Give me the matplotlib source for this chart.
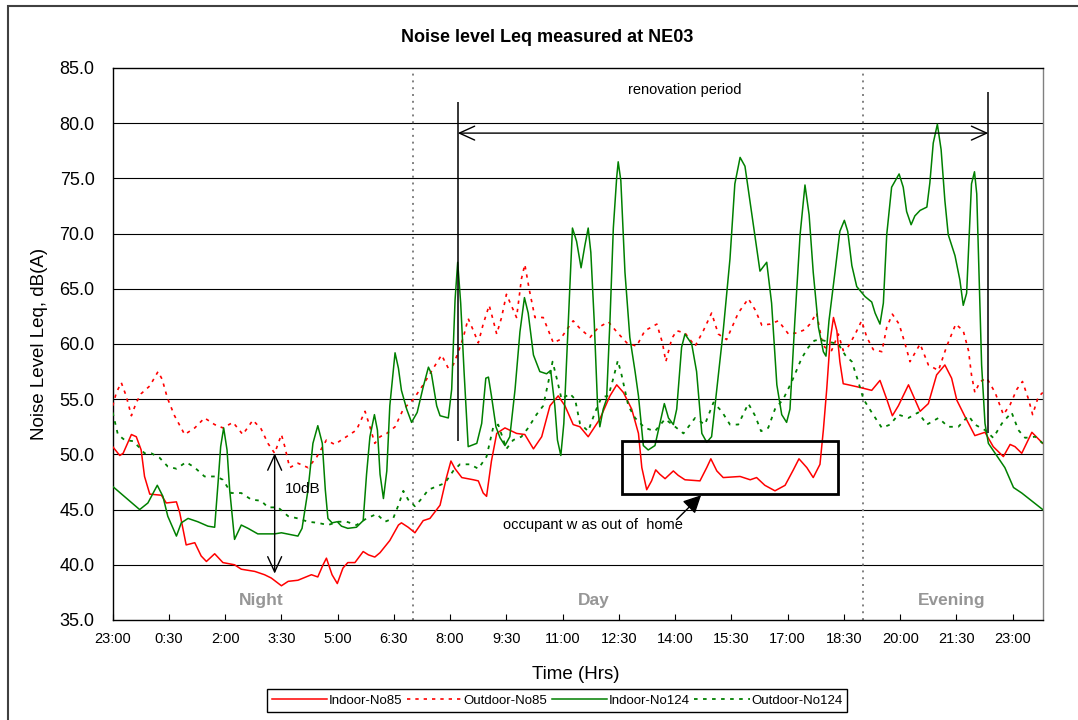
import matplotlib.pyplot as plt
from matplotlib.patches import Rectangle

plt.rcParams['font.family'] = ['Liberation Sans', 'DejaVu Sans']

# hours elapsed since 23:00 of the first evening
t_in85 = [0, 0.19, 0.28, 0.5, 0.63, 0.76, 0.85, 0.99, 1.3, 1.43, 1.7, 1.79, 1.96, 2.19, 2.36, 2.5,
          2.72, 2.94, 3.25, 3.43, 3.79, 4.05, 4.23, 4.5, 4.68, 4.94, 5.3, 5.47, 5.61, 5.7, 5.85,
          5.99, 6.14, 6.27, 6.46, 6.68, 6.82, 6.99, 7.13, 7.39, 7.62, 7.7, 7.88, 8.06, 8.28, 8.46,
          8.73, 8.9, 9.02, 9.13, 9.31, 9.62, 9.75, 9.88, 9.97, 10.1, 10.24, 10.46, 10.77, 10.99,
          11.22, 11.44, 11.66, 11.88, 12.06, 12.28, 12.46, 12.68, 12.99, 13.26, 13.44, 13.62,
          13.84, 14.02, 14.11, 14.24, 14.37, 14.48, 14.59, 14.73, 14.95, 15.08, 15.26, 15.66,
          15.84, 15.95, 16.11, 16.28, 16.73, 17.0, 17.17, 17.39, 17.66, 17.93, 18.15, 18.3,
          18.51, 18.68, 18.86, 18.95, 19.04, 19.13, 19.22, 19.31, 19.39, 19.48, 19.62, 19.88,
          20.24, 20.46, 20.64, 20.79, 20.95, 21.22, 21.35, 21.53, 21.75, 21.97, 22.19, 22.37,
          22.51, 22.73, 22.99, 23.26, 23.48, 23.75, 23.93, 24.06, 24.24, 24.51, 24.8]
in85 = [50.7, 49.9, 50.1, 51.8, 51.6, 50.4, 48.0, 46.4, 46.3, 45.6, 45.7, 44.7, 41.8, 42.0, 40.8,
        40.3, 41.0, 40.2, 40.0, 39.6, 39.4, 39.1, 38.8, 38.1, 38.5, 38.6, 39.1, 38.9, 40.0, 40.6,
        39.1, 38.3, 39.7, 40.2, 40.2, 41.2, 40.9, 40.7, 41.1, 42.2, 43.6, 43.8, 43.4, 42.9, 44.0,
        44.2, 45.4, 47.9, 49.4, 48.7, 47.9, 47.7, 47.6, 46.5, 46.2, 49.4, 51.9, 52.4, 51.9, 51.8,
        50.5, 51.6, 54.4, 55.3, 54.4, 52.7, 52.5, 51.6, 53.2, 55.3, 56.3, 55.6, 54.1, 51.9, 48.8,
        46.8, 47.6, 48.6, 48.2, 47.8, 48.5, 48.1, 47.7, 47.6, 48.8, 49.6, 48.5, 47.9, 48.0, 47.7,
        47.9, 47.2, 46.7, 47.2, 48.6, 49.6, 48.8, 47.9, 49.1, 52.2, 55.9, 60.3, 62.4, 61.2, 58.4,
        56.4, 56.3, 56.1, 55.8, 56.7, 55.0, 53.5, 54.4, 56.3, 55.3, 53.9, 54.6, 57.2, 58.1, 56.9,
        54.9, 53.4, 51.7, 52.0, 50.7, 49.8, 50.9, 50.7, 50.1, 52.0, 51.0]

t_out85 = [0, 0.1, 0.23, 0.36, 0.5, 0.63, 0.76, 0.99, 1.21, 1.32, 1.46, 1.65, 1.92, 2.19, 2.45,
           2.72, 2.94, 3.21, 3.47, 3.74, 3.96, 4.14, 4.32, 4.5, 4.59, 4.72, 4.94, 5.21, 5.43, 5.7,
           5.92, 6.19, 6.33, 6.5, 6.73, 6.86, 6.99, 7.13, 7.31, 7.53, 7.75, 8.02, 8.28, 8.55, 8.77,
           8.95, 9.08, 9.22, 9.35, 9.48, 9.62, 9.75, 9.88, 10.04, 10.15, 10.24, 10.37, 10.5, 10.64,
           10.77, 10.9, 10.99, 11.11, 11.26, 11.48, 11.62, 11.75, 11.93, 12.15, 12.28, 12.46,
           12.73, 12.95, 13.22, 13.44, 13.71, 13.97, 14.19, 14.51, 14.66, 14.75, 14.91, 15.04,
           15.26, 15.53, 15.75, 15.97, 16.15, 16.37, 16.68, 16.95, 17.13, 17.31, 17.53, 17.75,
           18.02, 18.24, 18.46, 18.59, 18.77, 18.91, 18.99, 19.17, 19.35, 19.48, 19.62, 19.8,
           19.97, 20.11, 20.28, 20.51, 20.64, 20.79, 20.97, 21.13, 21.26, 21.53, 21.75, 22.02,
           22.24, 22.48, 22.68, 22.82, 22.9, 22.99, 23.13, 23.31, 23.53, 23.75, 23.93, 24.11,
           24.26, 24.42, 24.53, 24.68, 24.8]
out85 = [54.4, 55.6, 56.5, 55.3, 53.5, 54.7, 55.5, 56.2, 57.5, 56.8, 55.1, 53.5, 51.8, 52.4, 53.3,
         52.7, 52.4, 52.9, 51.8, 53.1, 52.3, 51.0, 50.1, 51.8, 50.7, 48.8, 49.2, 48.8, 49.7, 51.3,
         50.9, 51.5, 51.8, 52.2, 53.9, 52.5, 51.0, 51.6, 51.9, 52.5, 54.1, 55.0, 56.3, 57.8, 59.0,
         57.8, 58.1, 59.3, 60.6, 62.3, 61.2, 60.1, 61.8, 63.5, 62.1, 60.9, 62.4, 64.5, 63.4, 62.4,
         65.9, 67.2, 64.9, 62.4, 62.4, 61.2, 60.1, 60.4, 61.5, 62.1, 61.4, 60.6, 61.5, 62.0, 61.1,
         60.1, 59.8, 61.2, 61.8, 60.1, 58.4, 60.5, 61.2, 61.0, 59.8, 61.2, 62.8, 60.9, 60.4, 62.8,
         64.1, 63.1, 61.7, 61.8, 62.1, 60.9, 61.0, 61.3, 61.8, 62.8, 60.3, 59.7, 59.4, 60.9, 59.4,
         59.8, 60.9, 62.1, 60.6, 59.5, 59.3, 61.5, 62.7, 61.8, 60.0, 58.4, 60.0, 58.1, 57.6, 59.8,
         61.8, 61.2, 59.4, 57.2, 55.6, 56.6, 56.9, 55.6, 53.6, 54.5, 55.9, 56.6, 55.0, 53.6, 55.2,
         55.6]

t_in124 = [0, 0.72, 0.94, 1.19, 1.34, 1.47, 1.7, 1.83, 2.01, 2.27, 2.54, 2.72, 2.81, 2.88, 2.96,
           3.05, 3.12, 3.25, 3.43, 3.61, 3.87, 4.32, 4.5, 4.94, 5.05, 5.21, 5.34, 5.47, 5.59, 5.67,
           5.74, 5.85, 5.99, 6.1, 6.27, 6.5, 6.68, 6.77, 6.86, 6.98, 7.06, 7.13, 7.22, 7.31, 7.39,
           7.53, 7.62, 7.7, 7.84, 7.97, 8.12, 8.28, 8.42, 8.5, 8.64, 8.73, 8.95, 9.04, 9.13, 9.2,
           9.28, 9.37, 9.48, 9.71, 9.84, 9.95, 10.02, 10.1, 10.22, 10.33, 10.46, 10.59, 10.73,
           10.86, 10.98, 11.08, 11.22, 11.39, 11.57, 11.68, 11.79, 11.86, 11.95, 12.03, 12.15,
           12.26, 12.37, 12.49, 12.59, 12.68, 12.75, 12.84, 12.93, 12.99, 13.08, 13.17, 13.26,
           13.35, 13.44, 13.48, 13.55, 13.66, 13.79, 13.93, 14.02, 14.15, 14.28, 14.46, 14.59,
           14.71, 14.82, 14.95, 15.04, 15.17, 15.26, 15.44, 15.57, 15.71, 15.84, 15.97, 16.11,
           16.28, 16.46, 16.59, 16.73, 16.86, 16.99, 17.13, 17.26, 17.44, 17.57, 17.71, 17.84,
           17.97, 18.06, 18.19, 18.33, 18.46, 18.57, 18.68, 18.82, 18.95, 19.02, 19.1, 19.26,
           19.39, 19.51, 19.6, 19.71, 19.84, 20.06, 20.24, 20.33, 20.46, 20.55, 20.64, 20.77,
           20.97, 21.08, 21.17, 21.29, 21.39, 21.53, 21.71, 21.79, 21.88, 21.99, 22.09, 22.19,
           22.28, 22.46, 22.59, 22.68, 22.77, 22.84, 22.9, 22.98, 23.04, 23.1, 23.17, 23.26,
           23.35, 23.57, 23.79, 24.02, 24.24, 24.8]
in124 = [47.1, 45.0, 45.6, 47.2, 46.2, 44.4, 42.6, 43.8, 44.2, 43.9, 43.5, 43.4, 47.4, 50.7, 52.4,
         50.4, 46.8, 42.3, 43.6, 43.3, 42.8, 42.8, 42.9, 42.6, 43.3, 46.8, 51.0, 52.6, 51.0, 46.8,
         44.2, 43.8, 43.9, 43.5, 43.3, 43.4, 44.0, 48.2, 51.6, 53.6, 52.2, 48.2, 46.0, 48.5, 54.4,
         59.2, 57.8, 55.8, 54.1, 52.9, 53.8, 56.1, 57.9, 57.3, 54.4, 53.5, 53.3, 55.9, 64.0, 67.4,
         63.7, 57.5, 50.7, 51.0, 52.8, 56.9, 57.0, 55.3, 52.5, 51.5, 50.8, 51.6, 55.9, 61.1, 64.2,
         62.8, 59.0, 57.5, 57.3, 57.6, 54.4, 51.3, 49.9, 52.8, 62.1, 70.5, 69.3, 66.9, 68.9, 70.5,
         68.3, 62.1, 54.4, 52.5, 54.1, 55.0, 62.1, 70.5, 75.1, 76.5, 74.8, 66.5, 60.6, 57.5, 55.3,
         50.8, 50.4, 50.8, 52.8, 54.6, 53.3, 52.7, 54.1, 59.7, 60.9, 60.0, 57.5, 51.9, 51.1, 51.6,
         55.9, 61.2, 67.7, 74.5, 76.9, 76.1, 73.0, 69.6, 66.6, 67.4, 63.7, 56.3, 53.6, 52.9, 54.1,
         62.1, 69.9, 74.4, 71.7, 66.5, 61.5, 59.3, 58.9, 62.1, 66.5, 70.2, 71.2, 70.2, 67.1, 65.2,
         64.3, 63.8, 62.8, 61.8, 63.7, 69.9, 74.2, 75.4, 74.2, 72.0, 70.8, 71.6, 72.1, 72.4, 74.6,
         78.2, 79.9, 77.6, 73.0, 69.9, 68.0, 65.8, 63.5, 64.6, 69.9, 74.5, 75.6, 73.6, 66.5, 58.1,
         52.8, 51.0, 49.9, 48.8, 47.0, 46.5, 45.0]

t_out124 = [0, 0.14, 0.32, 0.54, 0.72, 0.85, 1.03, 1.25, 1.47, 1.7, 1.96, 2.19, 2.45, 2.76, 2.94,
            3.16, 3.43, 3.7, 3.96, 4.14, 4.41, 4.68, 4.94, 5.21, 5.47, 5.74, 6.01, 6.24, 6.5, 6.77,
            7.04, 7.26, 7.48, 7.62, 7.75, 7.88, 8.06, 8.24, 8.42, 8.64, 8.86, 9.08, 9.26, 9.53,
            9.75, 9.97, 10.15, 10.28, 10.5, 10.68, 10.9, 11.08, 11.3, 11.48, 11.62, 11.73, 11.84,
            11.97, 12.19, 12.33, 12.46, 12.68, 12.86, 13.04, 13.22, 13.35, 13.47, 13.57, 13.75,
            13.93, 14.19, 14.46, 14.73, 15.0, 15.22, 15.53, 15.79, 16.02, 16.24, 16.46, 16.68,
            16.95, 17.13, 17.29, 17.48, 17.66, 17.88, 18.11, 18.37, 18.55, 18.71, 18.86, 19.08,
            19.35, 19.53, 19.71, 19.88, 20.02, 20.24, 20.51, 20.73, 20.95, 21.22, 21.48, 21.71,
            22.02, 22.28, 22.55, 22.82, 22.99, 23.26, 23.48, 23.71, 23.97, 24.15, 24.33, 24.6, 24.8]
out124 = [53.8, 51.8, 51.3, 51.2, 50.6, 50.1, 50.1, 49.7, 48.9, 48.7, 49.3, 48.8, 48.0, 48.0, 47.7,
          46.5, 46.5, 45.9, 45.8, 45.2, 45.2, 44.4, 44.2, 43.9, 43.8, 43.6, 43.9, 43.9, 43.6, 44.2,
          44.6, 43.9, 44.2, 45.4, 46.7, 45.9, 45.3, 46.0, 46.8, 47.1, 47.4, 48.5, 49.1, 49.1, 48.7,
          49.8, 52.5, 52.7, 50.5, 51.3, 51.6, 52.4, 53.6, 54.4, 56.6, 58.4, 56.9, 55.0, 55.5, 55.0,
          52.8, 52.1, 53.8, 55.2, 55.3, 56.9, 58.5, 57.2, 54.4, 53.3, 52.4, 52.1, 53.2, 52.5, 51.9,
          53.3, 52.7, 54.7, 53.9, 52.7, 52.7, 54.6, 53.5, 52.1, 52.4, 54.1, 55.0, 56.6, 58.7, 59.7,
          60.3, 60.4, 60.2, 60.0, 59.0, 58.4, 56.6, 55.0, 53.8, 52.4, 52.7, 53.6, 53.3, 53.8, 52.7,
          53.3, 52.5, 52.5, 53.5, 52.7, 52.2, 51.5, 52.8, 53.8, 52.2, 51.5, 51.6, 51.0]

tick_hours = [0, 1.5, 3, 4.5, 6, 7.5, 9, 10.5, 12, 13.5, 15, 16.5, 18, 19.5, 21, 22.5, 24]
tick_labels = ['23:00', '0:30', '2:00', '3:30', '5:00', '6:30', '8:00', '9:30', '11:00',
               '12:30', '14:00', '15:30', '17:00', '18:30', '20:00', '21:30', '23:00']
period_bounds = [8, 20]          # 7:00 and 19:00
renovation = [9.2, 23.35]        # start / end of renovation period

RED = '#FF0000'
GREEN = '#008000'
DOT = (0, (2, 3))

fig = plt.figure(figsize=(10.78, 7.2), dpi=100)
ax = fig.add_axes([0.1045, 0.1389, 0.8628, 0.7667])

for y in range(40, 85, 5):
    ax.axhline(y, color='black', lw=0.8, zorder=1)
for xb in period_bounds:
    ax.axvline(xb, color='#808080', lw=1.4, ls=(0, (1, 2.5)), zorder=1)

ax.plot(t_in85, in85, color=RED, lw=1.1, label='Indoor-No85', zorder=3)
ax.plot(t_out85, out85, color=RED, lw=1.2, ls=DOT, label='Outdoor-No85', zorder=3)
ax.plot(t_in124, in124, color=GREEN, lw=1.1, label='Indoor-No124', zorder=3)
ax.plot(t_out124, out124, color=GREEN, lw=1.3, ls=DOT, label='Outdoor-No124', zorder=3)

ax.set_xlim(0, 24.8)
ax.set_ylim(35, 85)
ax.set_yticks(range(35, 90, 5))
ax.set_yticklabels([f'{v:.1f}' for v in range(35, 90, 5)], fontsize=13)
ax.set_xticks(tick_hours)
ax.set_xticklabels(tick_labels, fontsize=10.5)
ax.tick_params(axis='x', direction='in', length=4, pad=9)
ax.tick_params(axis='y', direction='in', length=0, pad=13)
for s in ax.spines.values():
    s.set_linewidth(1.0)
ax.spines['right'].set_color('#808080')

ax.set_xlabel('Time (Hrs)', fontsize=13.5)
ax.xaxis.set_label_coords(0.4976, -0.083)
ax.set_ylabel('Noise Level Leq, dB(A)', fontsize=13.5)
ax.yaxis.set_label_coords(-0.07, 0.5)

fig.text(0.5074, 0.948, 'Noise level Leq measured at NE03', fontsize=13,
         fontweight='bold', ha='center', va='center')

# renovation period markers
ax.vlines(renovation[0], 51.2, 81.9, color='black', lw=1.1, zorder=4)
ax.vlines(renovation[1], 51.9, 82.8, color='black', lw=1.1, zorder=4)
ax.annotate('', xy=(renovation[1], 79.1), xytext=(renovation[0], 79.1),
            arrowprops=dict(arrowstyle='<->,head_length=1.1,head_width=0.5',
                            color='black', lw=1.0, shrinkA=0, shrinkB=0, mutation_scale=10))
ax.text(15.26, 83.0, 'renovation period', fontsize=10.5, ha='center', va='center')

# 10 dB marker
ax.annotate('', xy=(4.32, 50.1), xytext=(4.32, 39.2),
            arrowprops=dict(arrowstyle='<->,head_length=1.1,head_width=0.5',
                            color='black', lw=1.0, shrinkA=0, shrinkB=0, mutation_scale=10))
ax.text(4.59, 46.9, '10dB', fontsize=11, ha='left', va='center')

# occupant out of home box
ax.add_patch(Rectangle((13.57, 46.45), 19.33 - 13.57, 51.2 - 46.45, fill=False,
                       ec='black', lw=2.0, zorder=5))
ax.annotate('', xy=(15.69, 46.3), xytext=(15.04, 44.1),
            arrowprops=dict(arrowstyle='-|>,head_length=0.9,head_width=0.45',
                            color='black', lw=1.0, shrinkA=0, shrinkB=0, mutation_scale=12))
ax.text(10.42, 43.6, 'occupant w as out of  home', fontsize=10.5, ha='left', va='center')

for label, xc in [('Night', 3.96), ('Day', 12.82), ('Evening', 22.37)]:
    ax.text(xc, 36.75, label, fontsize=12.5, fontweight='bold', color='#969696',
            ha='center', va='center')

fig.legend(loc='lower center', bbox_to_anchor=(0.5167, 0.002), ncol=4, fontsize=9.5,
           frameon=True, fancybox=False, edgecolor='black', framealpha=1,
           handlelength=4.2, handletextpad=0.1, columnspacing=0.35, borderpad=0.4)

fig.patches.append(Rectangle((8 / 1078, -0.1), 1.2, (720 - 6) / 720 + 0.1, fill=False,
                             ec='#404040', lw=1.5, transform=fig.transFigure, figure=fig))

fig.savefig('out.png', dpi=100)
